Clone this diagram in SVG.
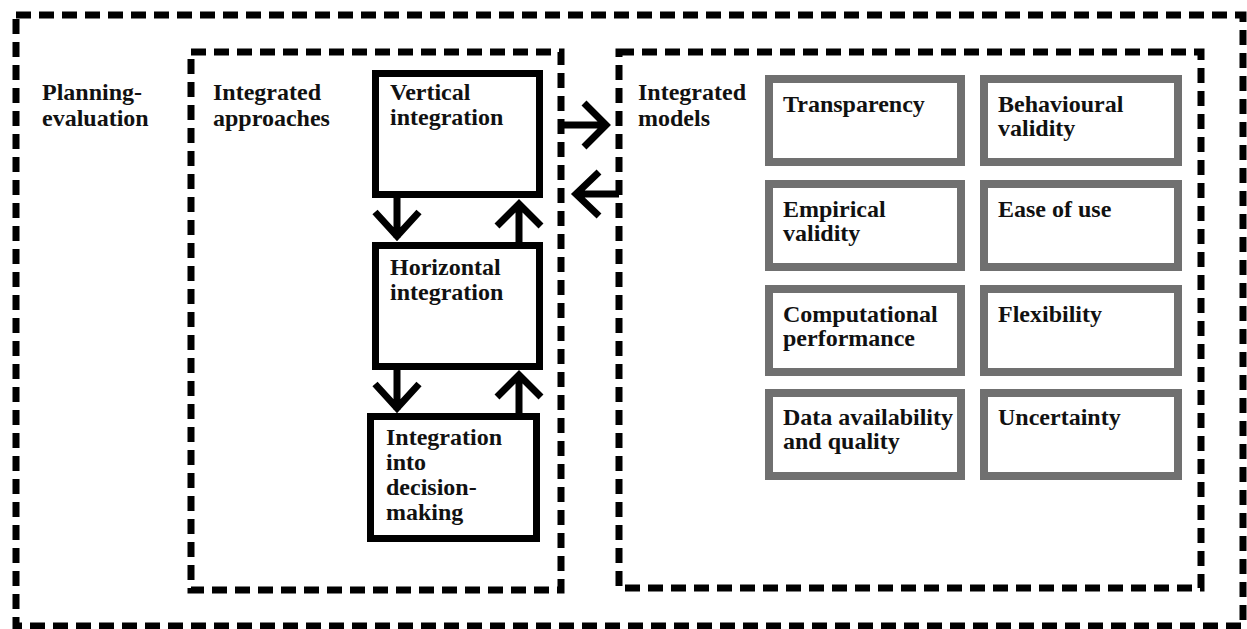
<svg xmlns="http://www.w3.org/2000/svg" width="1247" height="629" viewBox="0 0 1247 629">
<style>
.dash{fill:none;stroke:#000;stroke-width:7;stroke-dasharray:15 8}
.box{fill:#fff;stroke:#000;stroke-width:7}
.gbox{fill:#fff;stroke:#707070;stroke-width:8}
.t{font-family:"Liberation Serif","Times New Roman",serif;font-weight:bold;font-size:24px;fill:#111}
.arr{fill:none;stroke:#000;stroke-width:7;stroke-linejoin:miter}
</style>
<rect x="0" y="0" width="1247" height="629" fill="#fff"/>
<g id="planning-evaluation">
<rect class="dash" x="16" y="15" width="1227" height="611"/>
<text class="t" x="42" y="100">Planning-</text>
<text class="t" x="42" y="126">evaluation</text>
</g>
<g id="integrated-approaches">
<rect class="dash" x="191" y="52" width="370" height="538"/>
<text class="t" x="213" y="100">Integrated</text>
<text class="t" x="213" y="126">approaches</text>
</g>
<g id="integrated-models">
<rect class="dash" x="619" y="52" width="582" height="536"/>
<text class="t" x="638" y="100">Integrated</text>
<text class="t" x="638" y="126">models</text>
</g>
<g id="vertical-integration">
<rect class="box" x="375.5" y="73.5" width="164" height="121"/>
<text class="t" x="390" y="100">Vertical</text>
<text class="t" x="390" y="125">integration</text>
</g>
<g id="horizontal-integration">
<rect class="box" x="375.5" y="245.5" width="164" height="121"/>
<text class="t" x="390" y="275">Horizontal</text>
<text class="t" x="390" y="300">integration</text>
</g>
<g id="decision-making">
<rect class="box" x="370.5" y="416.5" width="166" height="122"/>
<text class="t" x="386" y="445">Integration</text>
<text class="t" x="386" y="470">into</text>
<text class="t" x="386" y="495">decision-</text>
<text class="t" x="386" y="520">making</text>
</g>
<g id="transparency">
<rect class="gbox" x="769" y="79" width="192" height="83"/>
<text class="t" x="783" y="112">Transparency</text>
</g>
<g id="behavioural-validity">
<rect class="gbox" x="984" y="79" width="194" height="83"/>
<text class="t" x="998" y="112">Behavioural</text>
<text class="t" x="998" y="136">validity</text>
</g>
<g id="empirical-validity">
<rect class="gbox" x="769" y="184" width="192" height="83"/>
<text class="t" x="783" y="217">Empirical</text>
<text class="t" x="783" y="241">validity</text>
</g>
<g id="ease-of-use">
<rect class="gbox" x="984" y="184" width="194" height="83"/>
<text class="t" x="998" y="217">Ease of use</text>
</g>
<g id="computational-performance">
<rect class="gbox" x="769" y="289" width="192" height="83"/>
<text class="t" x="783" y="322">Computational</text>
<text class="t" x="783" y="346">performance</text>
</g>
<g id="flexibility">
<rect class="gbox" x="984" y="289" width="194" height="83"/>
<text class="t" x="998" y="322">Flexibility</text>
</g>
<g id="data-availability">
<rect class="gbox" x="769" y="393" width="192" height="83"/>
<text class="t" x="783" y="425">Data availability</text>
<text class="t" x="783" y="449">and quality</text>
</g>
<g id="uncertainty">
<rect class="gbox" x="984" y="393" width="194" height="83"/>
<text class="t" x="998" y="425">Uncertainty</text>
</g>
<g id="connectors">
<path class="arr" d="M397,198 V238 M375,212 L397,236 L419,212"/>
<path class="arr" d="M519,242 V204 M497,226 L519,204 L541,226"/>
<path class="arr" d="M397,370 V410 M375,384 L397,408 L419,384"/>
<path class="arr" d="M519,413 V375 M497,397 L519,375 L541,397"/>
<path class="arr" d="M563,125 H606 M584,103 L606,125 L584,147"/>
<path class="arr" d="M619,194 H576 M599,172 L576,194 L599,216"/>
</g>
</svg>
